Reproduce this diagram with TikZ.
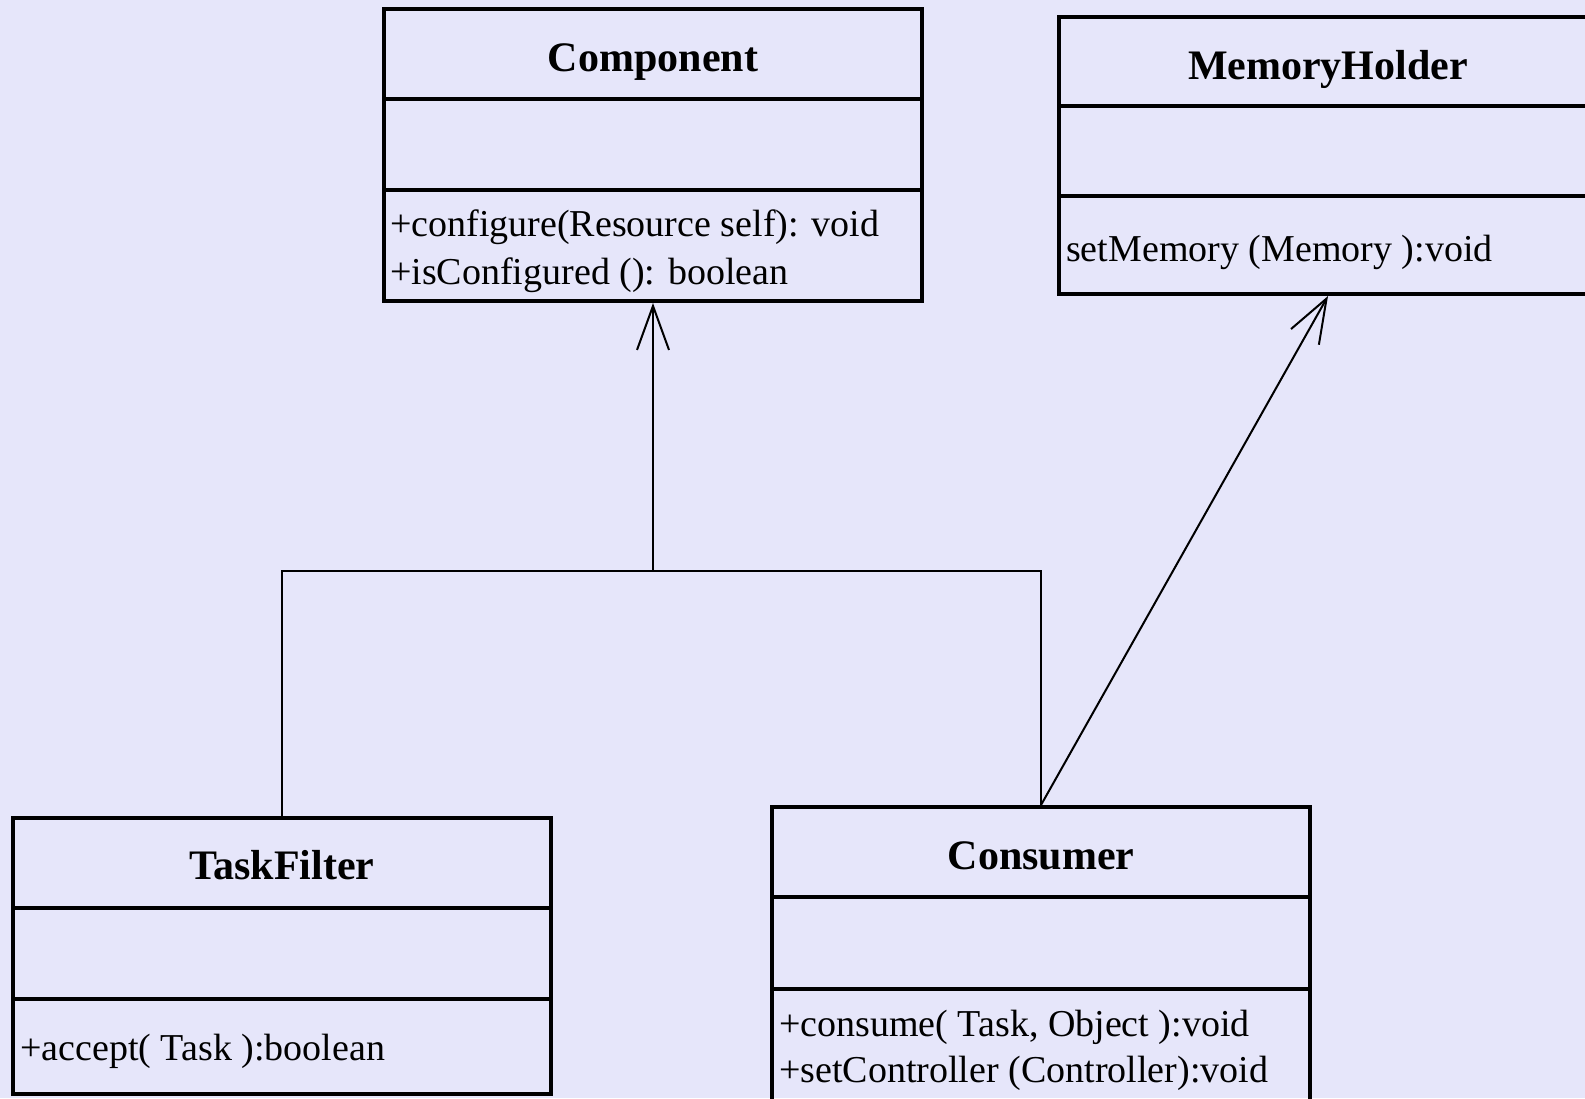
\documentclass[tikz,border=0pt]{standalone}
\usepackage{fontspec}
\setmainfont{Liberation Serif}
\usepackage{tikz}
\usetikzlibrary{arrows.meta}
\definecolor{bglavender}{RGB}{230,230,250}

\begin{document}
\begin{tikzpicture}[
    x=1pt, y=-1pt,
    classbox/.style={draw, line width=4pt, minimum width=538pt, inner sep=0pt},
    divider/.style={line width=4pt},
    title/.style={anchor=base, font=\fontsize{42}{50}\selectfont\bfseries, inner sep=0pt},
    method/.style={anchor=base west, font=\fontsize{38}{47}\selectfont, inner sep=0pt},
    link/.style={line width=2pt},
    arrow/.style={link, -{Straight Barb[length=44pt, width=32pt, line width=2pt]}}
]

% page and background
\useasboundingbox (0,0) rectangle (1585,1098);
\fill[bglavender] (0,0) rectangle (1585,1098);

% Classes
\node[classbox, minimum height=292pt] (component) at (653,155) {};
\node[classbox, minimum height=277pt] (memory) at (1328,155.5) {};
\node[classbox, minimum height=276pt] (taskfilter) at (282,956) {};
\node[classbox, minimum height=295pt] (consumer) at (1041,954.5) {};

% Compartment dividers
\draw[divider] (component.west |- 0,99) -- (component.east |- 0,99);
\draw[divider] (component.west |- 0,190) -- (component.east |- 0,190);
\draw[divider] (memory.west |- 0,106) -- (memory.east |- 0,106);
\draw[divider] (memory.west |- 0,196) -- (memory.east |- 0,196);
\draw[divider] (taskfilter.west |- 0,908) -- (taskfilter.east |- 0,908);
\draw[divider] (taskfilter.west |- 0,999) -- (taskfilter.east |- 0,999);
\draw[divider] (consumer.west |- 0,897) -- (consumer.east |- 0,897);
\draw[divider] (consumer.west |- 0,989) -- (consumer.east |- 0,989);

% Class names
\node[title] (componentname) at (653,71) {Component};
\node[title] (memoryname) at (1328,79) {MemoryHolder};
\node[title] (taskfiltername) at (282,879) {TaskFilter};
\node[title] (consumername) at (1041,869) {Consumer};

% Operations
\node[method] (configure) at (390,236) {+configure(Resource self): void};
\node[method] (isconfigured) at (390,284) {+isConfigured (): boolean};
\node[method] (setmemory) at (1066,261) {setMemory (Memory ):void};
\node[method] (accept) at (20,1060) {+accept( Task ):boolean};
\node[method] (consume) at (779,1036) {+consume( Task, Object ):void};
\node[method] (setcontroller) at (779,1082) {+setController (Controller):void};

% Connectors
\coordinate (junction) at (653,571);
\draw[arrow] (junction) -- (component.south);
\draw[link] (taskfilter.north) |- (junction) -| (consumer.north);
\draw[arrow] (consumer.north) -- (memory.south);

\end{tikzpicture}
\end{document}
